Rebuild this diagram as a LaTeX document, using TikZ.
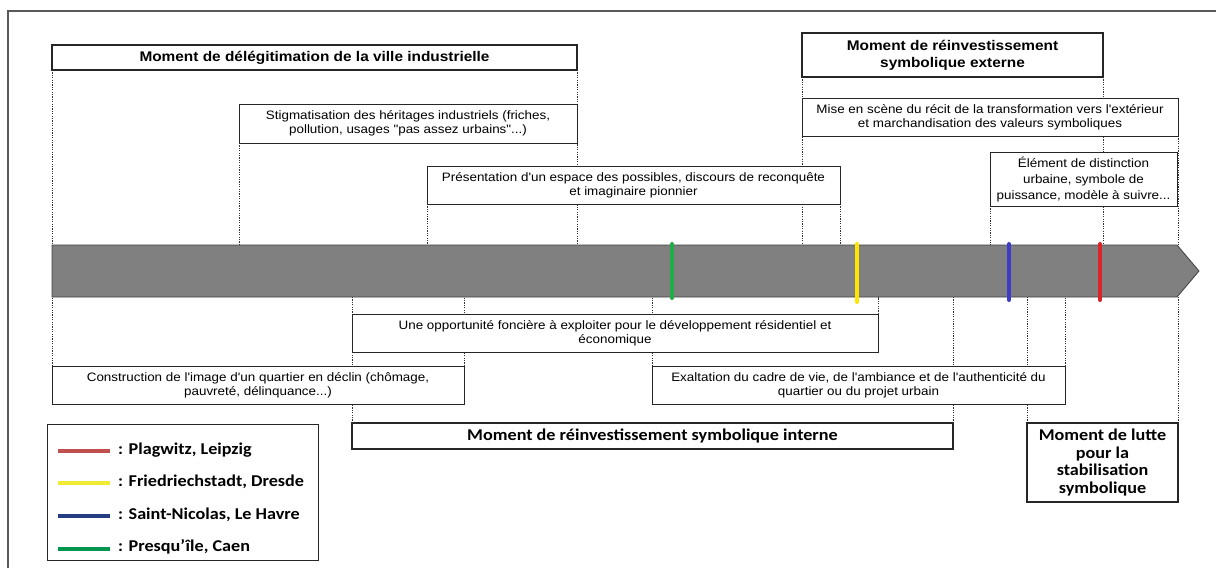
\documentclass[tikz,border=0pt]{standalone}
\usepackage{fontspec}
\setmainfont{Liberation Sans}[FakeStretch=1.1, Ligatures=TeXOff]
\newfontfamily\calibrifont{Carlito}[FakeStretch=1.1]
\usetikzlibrary{backgrounds}

\definecolor{sitered}{RGB}{220,35,40}
\definecolor{siteyellow}{RGB}{255,230,0}
\definecolor{siteblue}{RGB}{60,60,200}
\definecolor{sitegreen}{RGB}{35,170,75}
\definecolor{legred}{RGB}{192,80,77}
\definecolor{legyellow}{RGB}{240,235,50}
\definecolor{legblue}{RGB}{35,60,130}
\definecolor{leggreen}{RGB}{0,150,80}

\begin{document}
\begin{tikzpicture}[x=1pt, y=-1pt,
    txtbox/.style={draw=black!85, line width=0.8pt, fill=white, align=center,
      anchor=north west, inner sep=1pt, outer sep=0pt,
      font=\fontsize{12.2}{14}\selectfont},
    momentbox/.style={txtbox, line width=1.6pt, font=\bfseries\fontsize{14}{17}\selectfont},
    momentcal/.style={txtbox, line width=1.6pt, font=\calibrifont\bfseries\fontsize{16.5}{17.5}\selectfont},
    guide/.style={black!80, line width=0.8pt, dash pattern=on 1.2pt off 1.2pt},
    site/.style={line width=4pt, line cap=round},
    legline/.style={line width=4pt},
    legtext/.style={anchor=west, inner sep=0pt, font=\calibrifont\bfseries\fontsize{16.5}{17}\selectfont}]
    \useasboundingbox (0,0) rectangle (1216,568);

    % cadre
    \draw[black!65, line width=1.5pt] (8,568) -- (8,11) -- (1216,11);

    % ---------- au-dessus de la barre ----------
    \node[momentbox, minimum width=525pt, minimum height=25pt] (delegit) at (52,45)
        {Moment de délégitimation de la ville industrielle};
    \node[txtbox, minimum width=338pt, minimum height=39pt] (stig) at (239,104)
        {Stigmatisation des héritages industriels (friches,\\ pollution, usages "pas assez urbains"...)};
    \node[txtbox, minimum width=413pt, minimum height=38pt] (present) at (427,166)
        {Présentation d'un espace des possibles, discours de reconquête\\ et imaginaire pionnier};
    \node[momentbox, minimum width=301pt, minimum height=44pt] (externe) at (802,33)
        {Moment de réinvestissement\\ symbolique externe};
    \node[txtbox, minimum width=376pt, minimum height=38pt] (mise) at (802,98)
        {Mise en scène du récit de la transformation vers l'extérieur\\ et marchandisation des valeurs symboliques};
    \node[txtbox, minimum width=187pt, minimum height=54pt, font=\fontsize{12.2}{16}\selectfont] (element) at (990,152)
        {Élément de distinction\\ urbaine, symbole de\\ puissance, modèle à suivre...};

    % barre du temps
    \coordinate (bartop) at (0,245);
    \coordinate (barbot) at (0,297);
    \draw[fill=black!50, draw=black!75, line width=0.8pt]
        (52,245) -- (1177,245) -- (1199,271) -- (1177,297) -- (52,297) -- cycle;

    % repères des quartiers
    \draw[site, sitegreen] (672,244) -- (672,298);
    \draw[site, siteyellow] (857,244) -- (857,302);
    \draw[site, siteblue] (1009,244) -- (1009,300);
    \draw[site, sitered] (1100,244) -- (1100,300);

    % ---------- au-dessous de la barre ----------
    \node[txtbox, minimum width=526pt, minimum height=38pt] (opp) at (352,314)
        {Une opportunité foncière à exploiter pour le développement résidentiel et\\ économique};
    \node[txtbox, minimum width=412pt, minimum height=38pt] (constr) at (52,366)
        {Construction de l'image d'un quartier en déclin (chômage,\\ pauvreté, délinquance...)};
    \node[txtbox, minimum width=413pt, minimum height=38pt] (exalt) at (652,366)
        {Exaltation du cadre de vie, de l'ambiance et de l'authenticité du\\ quartier ou du projet urbain};
    \node[momentcal, minimum width=601pt, minimum height=26pt] (interne) at (352,423)
        {Moment de réinvestissement symbolique interne};
    \node[momentcal, minimum width=151pt, minimum height=79pt] (lutte) at (1027,423)
        {Moment de lutte\\ pour la\\ stabilisation\\ symbolique};

    % lignes de rappel
    \begin{scope}[on background layer]
        \draw[guide] (delegit.south west) -- (delegit.south west |- bartop);
        \draw[guide] (delegit.south east) -- (delegit.south east |- bartop);
        \draw[guide] (stig.south west) -- (stig.south west |- bartop);
        \draw[guide] (present.south west) -- (present.south west |- bartop);
        \draw[guide] (present.south east) -- (present.south east |- bartop);
        \draw[guide] (externe.south west) -- (externe.south west |- bartop);
        \draw[guide] (externe.south east) -- (externe.south east |- bartop);
        \draw[guide] (mise.south east) -- (mise.south east |- bartop);
        \draw[guide] (element.south west) -- (element.south west |- bartop);
        \draw[guide] (constr.north west) -- (constr.north west |- barbot);
        \draw[guide] (constr.north east) -- (constr.north east |- barbot);
        \draw[guide] (interne.north west) -- (interne.north west |- barbot);
        \draw[guide] (interne.north east) -- (interne.north east |- barbot);
        \draw[guide] (opp.north east) -- (opp.north east |- barbot);
        \draw[guide] (exalt.north west) -- (exalt.north west |- barbot);
        \draw[guide] (exalt.north east) -- (exalt.north east |- barbot);
        \draw[guide] (lutte.north west) -- (lutte.north west |- barbot);
        \draw[guide] (lutte.north east) -- (lutte.north east |- barbot);
    \end{scope}

    % légende
    \node[draw=black!85, line width=0.8pt, anchor=north west, outer sep=0pt,
        minimum width=271pt, minimum height=136pt] (legend) at (47,424) {};
    \draw[legline, legred] (58,451) -- (110,451);
    \node[legtext] (plagwitz) at (118,450) {: Plagwitz, Leipzig};
    \draw[legline, legyellow] (58,483) -- (110,483);
    \node[legtext] (friedrich) at (118,482) {: Friedriechstadt, Dresde};
    \draw[legline, legblue] (58,516) -- (110,516);
    \node[legtext] (nicolas) at (118,515) {: Saint-Nicolas, Le Havre};
    \draw[legline, leggreen] (58,549) -- (110,549);
    \node[legtext] (presquile) at (118,547) {: Presqu’île, Caen};
\end{tikzpicture}
\end{document}
